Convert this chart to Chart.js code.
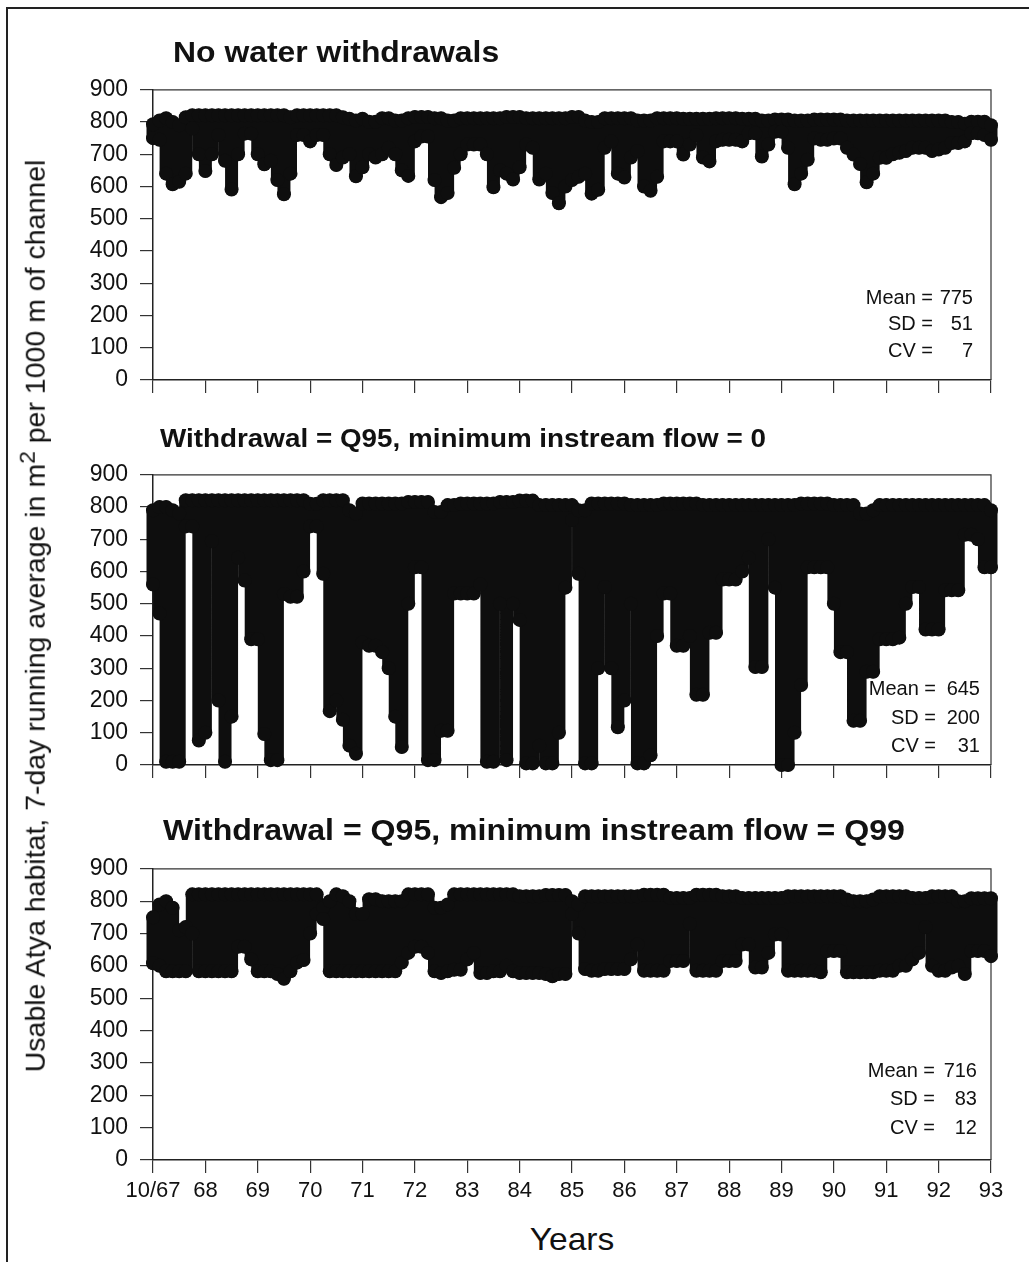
<!DOCTYPE html>
<html>
<head>
<meta charset="utf-8">
<script src="https://cdn.jsdelivr.net/npm/chart.js@4.4.0/dist/chart.umd.min.js"></script>
<style>
html,body{margin:0;padding:0;background:#fff;}
body{width:1029px;height:1262px;position:relative;overflow:hidden;font-family:"Liberation Sans",Arial,sans-serif;color:#111;}
.frame{position:absolute;left:6px;top:7px;width:1100px;height:1300px;border-top:2px solid #222;border-left:2px solid #222;}
canvas{position:absolute;left:0;}
.ttl{position:absolute;font-weight:bold;white-space:nowrap;line-height:1;transform:scaleX(1.1);transform-origin:left center;z-index:2;}
.st{position:absolute;font-size:20px;line-height:1;white-space:nowrap;text-align:right;z-index:2;}
.ytitle{position:absolute;left:35px;top:616px;font-size:28.5px;line-height:1;white-space:nowrap;transform:translate(-50%,-50%) rotate(-90deg);z-index:2;}
.ytitle sup{font-size:0.8em;line-height:0;}
.xtitle{position:absolute;left:572px;top:1239px;font-size:32px;line-height:1;white-space:nowrap;transform:translate(-50%,-50%) scaleX(1.05);z-index:2;}
</style>
</head>
<body>
<div class="frame"></div>
<div class="ytitle">Usable Atya habitat, 7-day running average in m<sup>2</sup> per 1000 m of channel</div>
<div class="xtitle">Years</div>
<script>
// ---------------- DATA ----------------
const xTickLabels = ['10/67','68','69','70','71','72','83','84','85','86','87','88','89','90','91','92','93'];
const SAMPLES_PER_YEAR = 8; // one high/low pair per 1/8 of a tick interval
const panelTitles = [
  'No water withdrawals',
  'Withdrawal = Q95, minimum instream flow = 0',
  'Withdrawal = Q95, minimum instream flow = Q99'
];
const statLabels = ['Mean =', 'SD =', 'CV ='];
const statValues = [[775, 51, 7], [645, 200, 31], [716, 83, 12]];

// Panel 1: No water withdrawals (upper / lower reach of daily dots per sample)
const p1Hi = [793,805,812,800,790,815,821,821,821,821,
  821,821,821,821,821,821,821,821,821,821,
  821,815,821,821,821,821,821,821,821,815,
  810,805,810,801,801,812,812,805,805,812,
  816,816,816,812,812,805,805,812,812,812,
  812,812,812,812,816,816,816,812,812,812,
  812,812,812,812,816,816,805,800,800,812,
  812,812,812,812,805,805,805,812,812,812,
  812,810,810,810,810,810,812,812,812,812,
  810,810,810,805,805,808,808,808,805,805,
  805,808,808,808,808,808,805,805,805,805,
  805,805,805,805,805,805,805,805,805,805,
  805,805,800,800,795,801,801,801,790];
const p1Lo = [750,745,640,607,615,640,780,700,648,700,
  760,680,591,700,764,764,700,669,680,620,
  576,640,760,760,740,760,760,700,667,690,
  700,632,660,700,690,700,720,700,650,633,
  740,755,755,620,567,580,658,700,730,730,
  730,700,598,650,640,622,660,730,720,622,
  640,580,548,600,620,630,640,578,590,720,
  740,640,628,690,710,600,587,630,740,740,
  740,699,730,760,690,678,740,745,745,745,
  740,765,765,693,730,770,770,720,607,640,
  683,749,745,745,749,749,720,699,670,613,
  640,689,689,700,705,710,720,720,720,710,
  715,720,735,735,740,765,765,760,745];

// Panel 2: Withdrawal = Q95, minimum instream flow = 0
const p2Hi = [790,800,800,790,780,821,821,821,821,821,
  821,821,821,821,821,821,821,821,821,821,
  821,821,821,821,810,810,821,821,821,821,
  790,780,811,811,811,811,811,811,811,816,
  816,816,816,785,785,806,806,811,811,811,
  811,811,811,816,816,816,820,820,820,806,
  806,806,806,806,806,790,790,811,811,811,
  811,811,811,806,806,806,806,806,811,811,
  811,811,811,811,806,806,806,806,806,806,
  806,806,806,806,806,806,806,806,806,811,
  811,811,811,811,806,806,806,806,780,780,
  790,806,806,806,806,806,806,806,806,806,
  806,806,806,806,806,806,806,806,790];
const p2Lo = [560,470,10,10,10,740,740,76,100,694,
  200,10,150,643,572,390,390,96,15,15,
  530,522,522,600,740,740,593,167,200,140,
  60,35,380,370,370,350,300,150,56,500,
  613,613,15,15,106,106,532,532,532,532,
  560,10,10,500,15,500,450,5,5,60,
  5,5,100,550,760,593,5,5,300,552,
  300,117,200,500,5,5,30,400,532,532,
  370,370,400,218,218,410,410,575,575,575,
  600,643,304,304,700,550,0,0,100,248,
  613,613,613,613,500,350,350,137,137,289,
  289,390,390,390,395,500,552,552,420,420,
  420,542,542,542,714,714,700,613,613];

// Panel 3: Withdrawal = Q95, minimum instream flow = Q99
const p3Hi = [750,790,800,780,710,720,821,821,821,821,
  821,821,821,821,821,821,821,821,821,821,
  821,821,821,821,821,821,780,800,821,815,
  800,760,760,806,806,800,800,800,800,821,
  821,821,821,780,780,790,821,821,821,821,
  821,821,821,821,821,821,815,815,815,815,
  819,819,819,819,800,790,815,815,815,815,
  815,815,815,815,815,820,820,820,820,810,
  810,810,810,820,820,820,820,815,815,815,
  810,810,810,810,810,810,810,815,815,815,
  815,815,815,815,815,815,805,800,800,800,
  805,815,815,815,815,815,810,810,810,815,
  815,815,815,800,800,809,809,809,809];
const p3Lo = [608,600,583,583,583,583,700,583,583,583,
  583,583,583,659,659,620,583,583,583,575,
  560,583,610,618,700,760,745,583,583,583,
  583,583,583,583,583,583,583,583,610,640,
  659,659,640,583,578,583,588,588,620,640,
  578,578,583,583,600,583,578,578,578,578,
  575,568,575,575,760,700,590,585,585,590,
  590,590,590,620,666,585,585,585,585,615,
  615,615,730,585,585,585,585,615,615,615,
  666,666,595,595,640,697,697,585,585,585,
  585,585,580,646,646,646,580,580,580,580,
  580,585,585,585,600,600,620,640,720,600,
  585,585,595,600,575,646,646,646,630];

// ---------------- LAYOUT (positions only) ----------------
const panels = [
  {hi:p1Hi, lo:p1Lo, top:64, plotH:296, showX:false,
   title:{left:173, top:38, size:29}, stats:{labelR:933, numR:973, rows:[297,323,350]}},
  {hi:p2Hi, lo:p2Lo, top:449, plotH:296, showX:false,
   title:{left:160, top:426, size:25.3}, stats:{labelR:936, numR:980, rows:[688,717,745]}},
  {hi:p3Hi, lo:p3Lo, top:843, plotH:297, showX:true,
   title:{left:163, top:816, size:29.2}, stats:{labelR:935, numR:977, rows:[1070,1098,1127]}}
];
const FONT = '"Liberation Sans", Arial, sans-serif';
const INK = '#111';

const framePlugin = {
  id: 'frame',
  beforeDatasetsDraw(chart) {
    const {ctx, chartArea: a} = chart;
    ctx.save();
    ctx.strokeStyle = '#333';
    ctx.lineWidth = 1.2;
    ctx.beginPath();
    ctx.moveTo(a.left, a.top);
    ctx.lineTo(a.right, a.top);
    ctx.lineTo(a.right, a.bottom);
    ctx.stroke();
    ctx.restore();
  }
};

panels.forEach((P, idx) => {
  // title
  const t = document.createElement('div');
  t.className = 'ttl';
  t.textContent = panelTitles[idx];
  t.style.left = P.title.left + 'px';
  t.style.top = P.title.top + 'px';
  t.style.fontSize = P.title.size + 'px';
  document.body.appendChild(t);
  // stats
  statLabels.forEach((lab, r) => {
    const cy = P.stats.rows[r] - 10;
    const l = document.createElement('div');
    l.className = 'st';
    l.textContent = lab;
    l.style.right = (1029 - P.stats.labelR) + 'px';
    l.style.top = cy + 'px';
    document.body.appendChild(l);
    const n = document.createElement('div');
    n.className = 'st';
    n.textContent = String(statValues[idx][r]);
    n.style.right = (1029 - P.stats.numR) + 'px';
    n.style.top = cy + 'px';
    document.body.appendChild(n);
  });

  // chart
  const H = 20 + P.plotH + 44;
  const cv = document.createElement('canvas');
  cv.width = 1029; cv.height = H;
  cv.style.width = '1029px'; cv.style.height = H + 'px';
  cv.style.top = P.top + 'px';
  document.body.appendChild(cv);

  const pts = [];
  for (let i = 0; i < P.hi.length; i++) {
    const x = i / SAMPLES_PER_YEAR;
    pts.push({x: x, y: P.hi[i]}, {x: x, y: P.lo[i]}, {x: x, y: null});
  }

  const gridOpts = {display: true, drawOnChartArea: false, drawTicks: true, tickLength: 13, color: '#333', lineWidth: 1.2};
  const borderOpts = {display: true, color: '#222', width: 1.5};

  new Chart(cv, {
    type: 'line',
    data: {datasets: [{
      data: pts,
      borderColor: '#0e0e0e',
      borderWidth: 13,
      borderCapStyle: 'round',
      borderJoinStyle: 'round',
      pointRadius: 7,
      pointBorderWidth: 0,
      pointBackgroundColor: '#0e0e0e',
      pointHoverRadius: 0,
      spanGaps: false,
      tension: 0,
      clip: false
    }]},
    options: {
      responsive: false,
      animation: false,
      devicePixelRatio: 1,
      events: [],
      layout: {padding: {top: 20, right: 38, left: 0, bottom: 0}},
      plugins: {legend: {display: false}, tooltip: {enabled: false}, title: {display: false}},
      scales: {
        x: {
          type: 'linear', min: 0, max: 16,
          afterFit: s => { s.height = 44; },
          ticks: {display: P.showX, stepSize: 1, autoSkip: false, maxRotation: 0, padding: 5,
                  color: INK, font: {size: 22, family: FONT},
                  callback: v => xTickLabels[v]},
          grid: gridOpts, border: borderOpts
        },
        y: {
          min: 0, max: 900,
          afterFit: s => { s.width = 153; },
          ticks: {stepSize: 100, padding: 12, color: INK, font: {size: 23, family: FONT}},
          grid: gridOpts, border: borderOpts
        }
      }
    },
    plugins: [framePlugin]
  });
});
</script>
</body>
</html>
